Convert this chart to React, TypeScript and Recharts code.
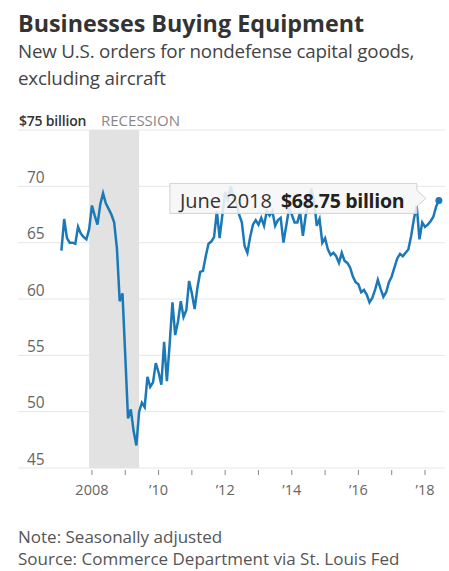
import React from 'react';
import { LineChart, Line, XAxis, YAxis, CartesianGrid, ReferenceArea } from 'recharts';

// monthly new orders, $ billions (first value is Feb. 2007)
const v2007 = [64.3, 67.1, 65.4, 65.0, 65.0, 64.9, 66.4, 65.8, 65.5, 65.3, 66.2];
const v2008 = [68.3, 67.4, 66.6, 68.4, 69.4, 68.5, 68.0, 67.5, 66.8, 64.5, 59.8, 60.5];
const v2009 = [55.0, 49.4, 50.2, 48.3, 47.0, 50.0, 50.8, 50.4, 53.1, 52.2, 52.6, 54.3];
const v2010 = [53.5, 52.4, 56.2, 52.7, 56.0, 59.7, 56.8, 58.0, 59.8, 58.4, 59.0, 61.6];
const v2011 = [60.5, 59.1, 61.0, 62.4, 62.5, 63.8, 64.9, 65.1, 65.5, 67.8, 65.4, 67.5];
const v2012 = [69.5, 68.8, 70.0, 69.0, 68.6, 67.5, 66.8, 64.7, 64.1, 65.5, 66.6, 67.0];
const v2013 = [66.6, 67.2, 66.5, 67.8, 67.4, 67.8, 66.5, 67.0, 67.2, 65.0, 66.5, 68.0];
const v2014 = [67.5, 66.8, 66.8, 67.7, 65.6, 67.4, 68.5, 69.8, 68.8, 66.5, 67.1, 65.0];
const v2015 = [65.4, 64.4, 63.9, 64.1, 63.8, 63.2, 64.1, 63.4, 63.2, 62.8, 62.0, 61.5];
const v2016 = [61.3, 60.6, 60.8, 60.4, 59.7, 60.1, 60.8, 61.7, 60.9, 60.2, 60.6, 61.5];
const v2017 = [62.0, 62.8, 63.6, 64.0, 63.8, 64.1, 64.4, 65.6, 67.1, 68.3, 65.3, 66.8];
const v2018 = [66.4, 66.6, 66.9, 67.3, 68.2, 68.75];

const startYear = 2007;
const startMonth = 1; // Feb
const monthNames = ['Jan.', 'Feb.', 'March', 'April', 'May', 'June', 'July', 'Aug.', 'Sept.', 'Oct.', 'Nov.', 'Dec.'];

const yearTicks = [2008, 2009, 2010, 2011, 2012, 2013, 2014, 2015, 2016, 2017, 2018];
const valueTicks = [45, 50, 55, 60, 65, 70, 75];
const recession = [2007 + 11 / 12, 2009 + 5 / 12]; // Dec. 2007 – June 2009

const series = [...v2007, ...v2008, ...v2009, ...v2010, ...v2011, ...v2012, ...v2013, ...v2014, ...v2015, ...v2016, ...v2017, ...v2018];

const data = series.map((v, i) => {
  const m = startMonth + i;
  return {
    t: startYear + m / 12,
    value: v,
    label: monthNames[m % 12] + ' ' + (startYear + Math.floor(m / 12)),
  };
});

const FONT = '"Open Sans", "Noto Sans", sans-serif';
const BLUE = '#1b79b8';
const last = data.length - 1;

const YTick = (props: any) => {
  const { y, payload } = props;
  if (payload.value === 75) {
    return (
      <text x={19} y={y - 4} fontFamily={FONT} fontSize={14} fontWeight={600} fill="#333" letterSpacing={-0.2}>
        $75 billion
      </text>
    );
  }
  return (
    <text x={27} y={y - 3.5} fontFamily={FONT} fontSize={15.5} fill="#666">
      {payload.value}
    </text>
  );
};

const XTick = (props: any) => {
  const { x, y, payload } = props;
  const yr = payload.value;
  const label = yr % 2 === 0 ? (yr === 2008 ? '2008' : '\u2019' + String(yr).slice(2)) : '';
  return (
    <g>
      <line x1={x} x2={x} y1={y + 2} y2={y + 7} stroke="#888" strokeWidth={1} />
      {label && (
        <text x={x} y={y + 27} textAnchor="middle" fontFamily={FONT} fontSize={14.5} fill="#666">
          {label}
        </text>
      )}
    </g>
  );
};

const EndDot = (props: any) => {
  const { cx, cy, index } = props;
  if (index !== last) return <g key={'d' + index} />;
  const d = data[last];
  const right = cx - 22;
  const left = right - 247;
  const top = cy - 17;
  const bottom = cy + 13;
  const path = `M${left},${top} H${right} V${cy - 10} L${right + 9},${cy - 2} L${right},${cy + 6} V${bottom} H${left} Z`;
  return (
    <g key={'d' + index}>
      <path d={path} fill="rgba(246,246,246,0.88)" stroke="#d2d2d2" strokeWidth={1} />
      <text x={left + 10} y={cy + 8} fontFamily={FONT} fontSize={20} fill="#333">
        {d.label}
        <tspan dx={9} fontSize={19.5} fontWeight={700} fill="#222" letterSpacing={-0.3}>
          ${d.value.toFixed(2)} billion
        </tspan>
      </text>
      <circle cx={cx} cy={cy} r={3.5} fill={BLUE} />
    </g>
  );
};

export default function App() {
  return (
    <div style={{ position: 'absolute', left: 0, top: 0, width: 449, height: 571, background: '#fff' }}>
      <LineChart
        width={449}
        height={571}
        data={data}
        margin={{ top: 130, right: 4, left: 0, bottom: 73 }}
      >
        <CartesianGrid vertical={false} stroke="#e6e6e6" />
        <ReferenceArea x1={recession[0]} x2={recession[1]} fill="#e2e2e2" fillOpacity={1} stroke="none" />
        <XAxis
          dataKey="t"
          type="number"
          domain={[2005.78, 2018.6]}
          ticks={yearTicks}
          height={30}
          axisLine={false}
          tickLine={false}
          tickSize={0}
          tickMargin={0}
          tick={<XTick />}
          interval={0}
        />
        <YAxis
          type="number"
          domain={[45, 75]}
          ticks={valueTicks}
          width={18}
          axisLine={false}
          tickLine={false}
          tickSize={0}
          tickMargin={0}
          tick={<YTick />}
          interval={0}
        />
        <Line
          type="linear"
          dataKey="value"
          stroke={BLUE}
          strokeWidth={2.5}
          dot={EndDot}
          activeDot={false}
          isAnimationActive={false}
        />
      </LineChart>
      <svg width={449} height={571} style={{ position: 'absolute', left: 0, top: 0, pointerEvents: 'none' }}>
        <text x={18} y={32} fontFamily={FONT} fontSize={23.3} fontWeight={700} fill="#333">
          Businesses Buying Equipment
        </text>
        <text x={18} y={58} fontFamily={FONT} fontSize={18.8} fill="#444" letterSpacing={-0.2}>
          New U.S. orders for nondefense capital goods,
        </text>
        <text x={18} y={85} fontFamily={FONT} fontSize={18.8} fill="#444" letterSpacing={-0.2}>
          excluding aircraft
        </text>
        <text x={101} y={126} fontFamily={FONT} fontSize={15} fill="#888">
          RECESSION
        </text>
        <text x={18} y={543} fontFamily={FONT} fontSize={17} fill="#555">
          Note: Seasonally adjusted
        </text>
        <text x={18} y={565} fontFamily={FONT} fontSize={17} fill="#555">
          Source: Commerce Department via St. Louis Fed
        </text>
      </svg>
    </div>
  );
}
